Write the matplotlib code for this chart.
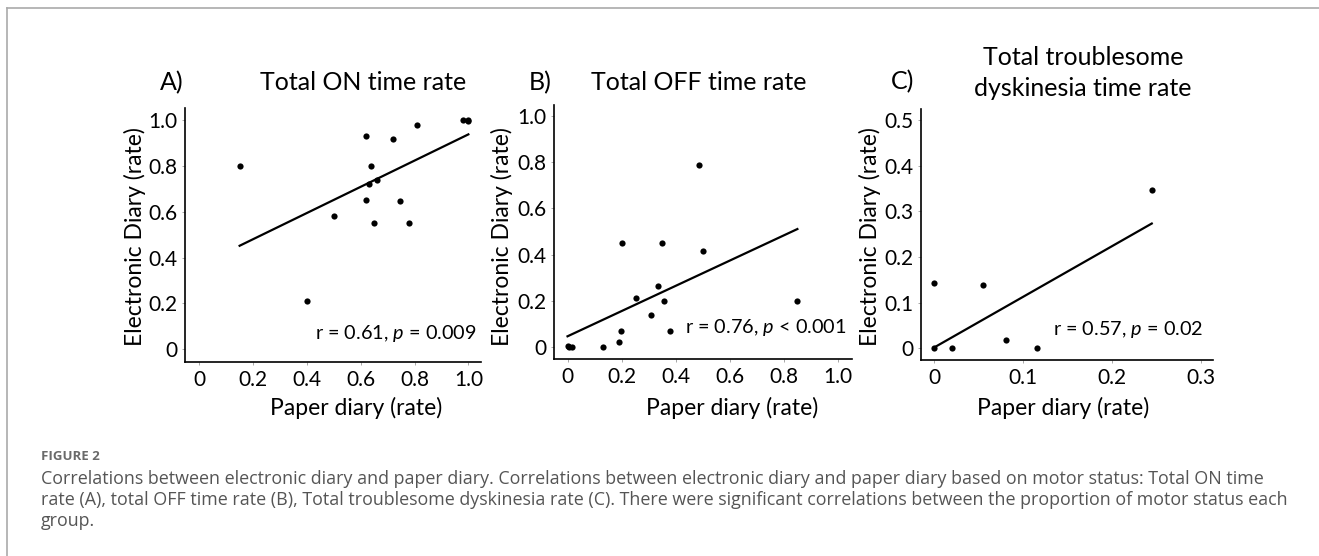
import matplotlib
matplotlib.use("Agg")
import matplotlib.pyplot as plt
import numpy as np

plt.rcParams['font.family'] = ['Lato', 'DejaVu Sans']
plt.rcParams['mathtext.fontset'] = 'custom'
plt.rcParams['mathtext.rm'] = 'Lato'
plt.rcParams['mathtext.it'] = 'Lato:italic'

# A) Total ON time rate
on_paper = [0.15, 0.40, 0.50, 0.62, 0.62, 0.64, 0.63, 0.65, 0.66, 0.72, 0.745, 0.78, 0.81, 0.98, 1.0, 1.0]
on_elec = [0.80, 0.21, 0.58, 0.93, 0.65, 0.80, 0.72, 0.55, 0.74, 0.915, 0.645, 0.55, 0.98, 1.0, 0.995, 1.0]
on_fit = (0.571, 0.366)  # slope, intercept

# B) Total OFF time rate
off_paper = [0.0, 0.005, 0.016, 0.13, 0.19, 0.196, 0.20, 0.253, 0.31, 0.335, 0.35, 0.357, 0.38, 0.486, 0.50, 0.85]
off_elec = [0.006, 0.0, 0.0, 0.0, 0.023, 0.071, 0.45, 0.212, 0.138, 0.265, 0.45, 0.202, 0.071, 0.788, 0.416, 0.20]
off_fit = (0.545, 0.048)

# C) Total troublesome dyskinesia time rate
dys_paper = [0.0, 0.0, 0.02, 0.055, 0.081, 0.116, 0.245]
dys_elec = [0.142, 0.0, 0.0, 0.138, 0.018, 0.0, 0.347]
dys_fit = (1.107, 0.002)

W, H = 1319, 556
fig = plt.figure(figsize=(W / 100, H / 100), dpi=100)

def px(l, t, r, b):
    return [l / W, 1 - b / H, (r - l) / W, (b - t) / H]

panels = [
    dict(pos=px(185, 108, 481, 362), x=on_paper, y=on_elec, fit=on_fit,
         xlim=(-0.053, 1.047), ylim=(-0.055, 1.052),
         xt=[0, 0.2, 0.4, 0.6, 0.8, 1.0], xtl=['0', '0.2', '0.4', '0.6', '0.8', '1.0'],
         yt=[0, 0.2, 0.4, 0.6, 0.8, 1.0], ytl=['0', '0.2', '0.4', '0.6', '0.8', '1.0'],
         letter='A)', lpos=(172, 83), title='Total ON time rate', tpos=(363, 83),
         stat='r = 0.61, $\\mathit{p}$ = 0.009', spos=(477, 334),
         ylab_x=135, xlab_x=356),
    dict(pos=px(554, 105, 852, 359), x=off_paper, y=off_elec, fit=off_fit,
         xlim=(-0.05, 1.052), ylim=(-0.05, 1.047),
         xt=[0, 0.2, 0.4, 0.6, 0.8, 1.0], xtl=['0', '0.2', '0.4', '0.6', '0.8', '1.0'],
         yt=[0, 0.2, 0.4, 0.6, 0.8, 1.0], ytl=['0', '0.2', '0.4', '0.6', '0.8', '1.0'],
         letter='B)', lpos=(540, 83), title='Total OFF time rate', tpos=(699, 83),
         stat='r = 0.76, $\\mathit{p}$ < 0.001', spos=(846, 327),
         ylab_x=502, xlab_x=732),
    dict(pos=px(921, 109, 1213, 360), x=dys_paper, y=dys_elec, fit=dys_fit,
         xlim=(-0.015, 0.314), ylim=(-0.0256, 0.524),
         xt=[0, 0.1, 0.2, 0.3], xtl=['0', '0.1', '0.2', '0.3'],
         yt=[0, 0.1, 0.2, 0.3, 0.4, 0.5], ytl=['0', '0.1', '0.2', '0.3', '0.4', '0.5'],
         letter='C)', lpos=(903, 82), title='Total troublesome\ndyskinesia time rate', tpos=(1083, 73),
         stat='r = 0.57, $\\mathit{p}$ = 0.02', spos=(1203, 330),
         ylab_x=870, xlab_x=1063),
]

for p in panels:
    ax = fig.add_axes(p['pos'])
    ax.scatter(p['x'], p['y'], s=20, c='black', zorder=3, linewidths=0)
    xs = np.array([min(p['x']), max(p['x'])])
    slope, icpt = p['fit']
    ax.plot(xs, slope * xs + icpt, color='black', lw=1.6, zorder=2)
    ax.set_xlim(*p['xlim'])
    ax.set_ylim(*p['ylim'])
    ax.set_xticks(p['xt'], p['xtl'])
    ax.set_yticks(p['yt'], p['ytl'])
    ax.tick_params(labelsize=15, length=2.5, width=0.6, color='#999999', pad=3)
    for s in ['top', 'right']:
        ax.spines[s].set_visible(False)
    for s in ['left', 'bottom']:
        ax.spines[s].set_linewidth(1.2)
    fig.text(p['lpos'][0] / W, 1 - p['lpos'][1] / H, p['letter'], fontsize=18, ha='center', va='center')
    fig.text(p['tpos'][0] / W, 1 - p['tpos'][1] / H, p['title'], fontsize=18, ha='center', va='center',
             linespacing=1.45)
    fig.text(p['spos'][0] / W, 1 - p['spos'][1] / H, p['stat'], fontsize=14.3, ha='right', va='center')
    fig.text(p['ylab_x'] / W, 1 - 237 / H, 'Electronic Diary (rate)', fontsize=16.5, rotation=90,
             ha='center', va='center')
    fig.text(p['xlab_x'] / W, 1 - 408 / H, 'Paper diary (rate)', fontsize=16.5, ha='center', va='center')

# frame of the figure box
fig.add_artist(plt.Line2D([7 / W, 7 / W], [0, 1 - 8 / H], color='#aaaaaa', lw=1.2))
fig.add_artist(plt.Line2D([7 / W, 1], [1 - 8 / H, 1 - 8 / H], color='#aaaaaa', lw=1.2))

fig.text(41 / W, 1 - 456 / H, 'FIGURE 2', fontsize=9.5, fontweight='bold', color='#6a6a6a',
         family='Open Sans', va='center')
caption = ["Correlations between electronic diary and paper diary. Correlations between electronic diary and paper diary based on motor status: Total ON time",
           "rate (A), total OFF time rate (B), Total troublesome dyskinesia rate (C). There were significant correlations between the proportion of motor status each",
           "group."]
for i, line in enumerate(caption):
    fig.text(41 / W, 1 - (479 + 21 * i) / H, line, fontsize=12.85, color='#555555', family='Open Sans', va='center')

fig.savefig('out.png', dpi=100)
